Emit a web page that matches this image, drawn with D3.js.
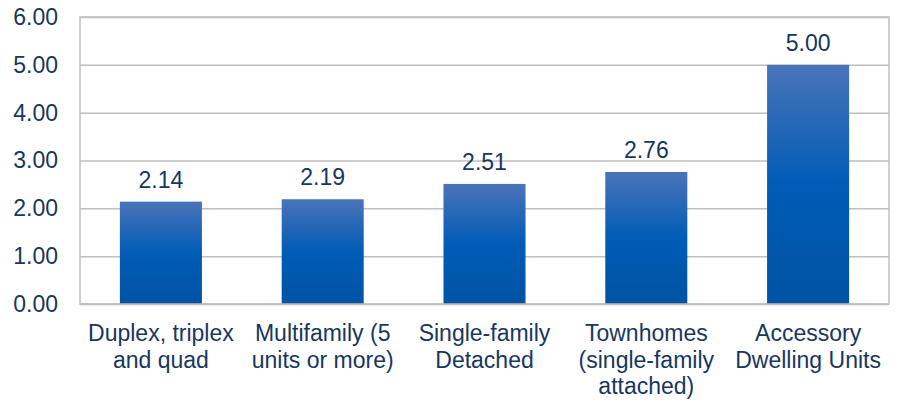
<!DOCTYPE html>
<html>
<head>
<meta charset="utf-8">
<script src="https://cdn.jsdelivr.net/npm/d3@7"></script>
<style>
  html, body { margin: 0; padding: 0; background: #ffffff; }
  svg { display: block; }
  text { font-family: Arial, "Liberation Sans", sans-serif; fill: #17375E; }
</style>
</head>
<body>
<svg id="chart" width="898" height="403"></svg>
<script>
const categories = [
  "Duplex, triplex and quad",
  "Multifamily (5 units or more)",
  "Single-family Detached",
  "Townhomes (single-family attached)",
  "Accessory Dwelling Units"
];
const categoryLines = [
  ["Duplex, triplex", "and quad"],
  ["Multifamily (5", "units or more)"],
  ["Single-family", "Detached"],
  ["Townhomes", "(single-family", "attached)"],
  ["Accessory", "Dwelling Units"]
];
const values = [2.14, 2.19, 2.51, 2.76, 5.00];
const yTicks = [0, 1, 2, 3, 4, 5, 6];

(function () {
const svg = d3.select("#chart");
const plotLeft = 80, plotRight = 889, plotTop = 17, plotBottom = 304;
const fontSize = 23;
const textColor = "#17375E";
const gridColor = "#BFBFBF";

const x = d3.scaleBand().domain(categories).range([plotLeft, plotRight])
  .paddingInner(0.493).paddingOuter(0.2465);
const y = d3.scaleLinear().domain([0, 6]).range([plotBottom, plotTop]);

const defs = svg.append("defs");
const grad = defs.append("linearGradient").attr("id", "barGrad")
  .attr("x1", 0).attr("y1", 0).attr("x2", 0).attr("y2", 1);
grad.append("stop").attr("offset", "0%").attr("stop-color", "#4A74B8");
grad.append("stop").attr("offset", "50%").attr("stop-color", "#005CB6");
grad.append("stop").attr("offset", "100%").attr("stop-color", "#0053A4");

// gridlines + tick labels
const yAxis = d3.axisLeft(y).tickValues(yTicks).tickSize(-(plotRight - plotLeft))
  .tickFormat(d3.format(".2f")).tickPadding(22);
const gy = svg.append("g").attr("transform", `translate(${plotLeft},0)`).call(yAxis);
gy.select(".domain").remove();
gy.selectAll(".tick line").attr("stroke", gridColor).attr("stroke-width", 1.5);
gy.selectAll(".tick text").attr("font-size", fontSize)
  .attr("font-family", "Arial, 'Liberation Sans', sans-serif")
  .style("fill", textColor);

// plot border
svg.append("rect").attr("x", plotLeft).attr("y", plotTop)
  .attr("width", plotRight - plotLeft).attr("height", plotBottom - plotTop)
  .attr("fill", "none").attr("stroke", gridColor).attr("stroke-width", 1.5);

// bars
svg.append("g").selectAll("rect").data(values).join("rect")
  .attr("x", (d, i) => x(categories[i]))
  .attr("width", x.bandwidth())
  .attr("y", d => y(d))
  .attr("height", d => y(0) - y(d))
  .attr("fill", "url(#barGrad)");

// bottom line over bars
svg.append("line").attr("x1", plotLeft).attr("x2", plotRight)
  .attr("y1", plotBottom).attr("y2", plotBottom)
  .attr("stroke", gridColor).attr("stroke-width", 1.5);

// value labels
svg.append("g").selectAll("text").data(values).join("text")
  .attr("x", (d, i) => x(categories[i]) + x.bandwidth() / 2)
  .attr("y", d => y(d) - 14)
  .attr("text-anchor", "middle")
  .attr("font-size", fontSize)
  .style("fill", textColor)
  .text(d => d.toFixed(2));

// category labels
const xAxis = d3.axisBottom(x).tickSize(0).tickFormat("");
const gx = svg.append("g").attr("transform", `translate(0,${plotBottom})`).call(xAxis);
gx.select(".domain").remove();
gx.selectAll(".tick").each(function (d, i) {
  const t = d3.select(this).append("text")
    .attr("text-anchor", "middle")
    .attr("font-size", fontSize)
    .style("fill", textColor);
  categoryLines[i].forEach((line, j) => {
    t.append("tspan").attr("x", 0).attr("y", 37 + j * 26.5).text(line);
  });
});
})();
</script>
</body>
</html>
